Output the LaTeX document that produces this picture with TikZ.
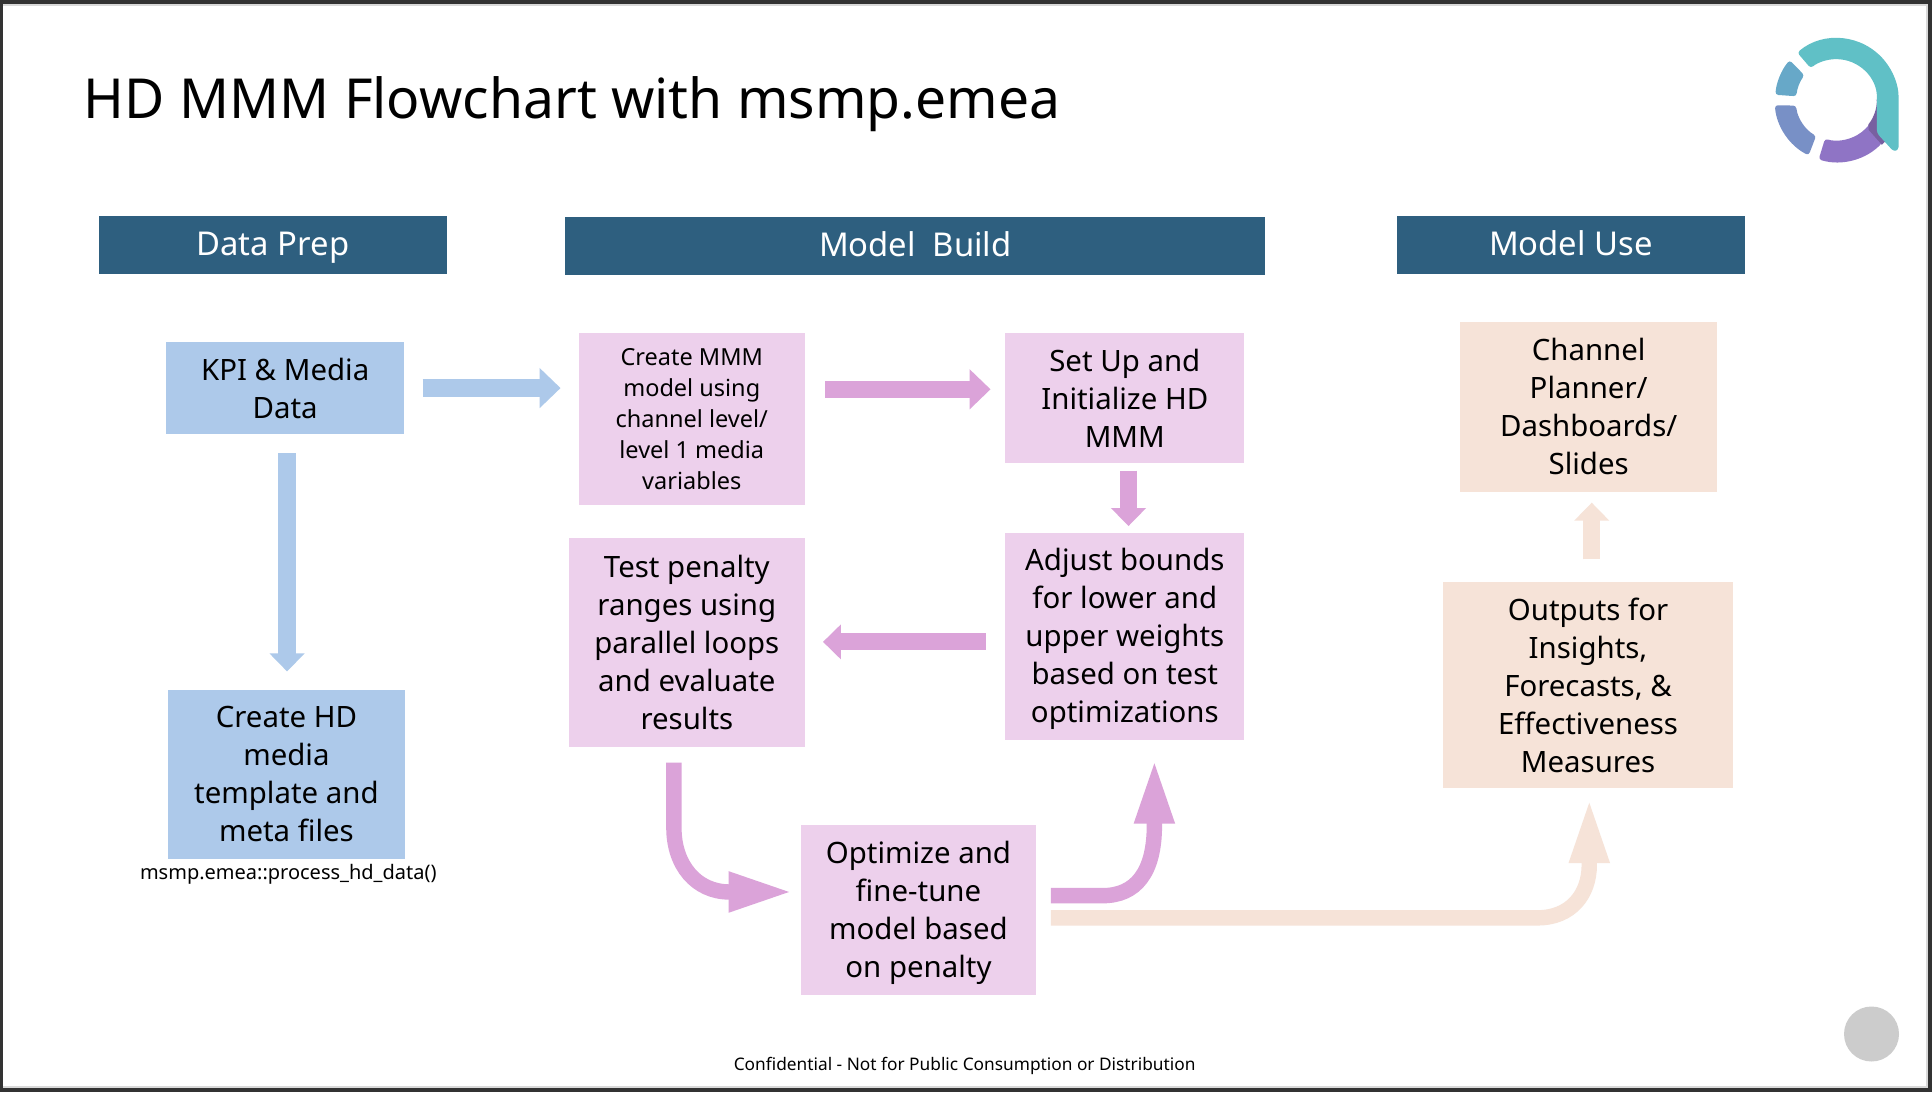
\documentclass[tikz,border=0pt]{standalone}
\usepackage{fontspec}
\setmainfont{Noto Sans}
\usetikzlibrary{arrows.meta}
\definecolor{hdr}{HTML}{2E5F7F}
\definecolor{bluebox}{HTML}{ADC9EA}
\definecolor{pinkbox}{HTML}{EDD0EC}
\definecolor{peachbox}{HTML}{F6E3D8}
\definecolor{pinkarrow}{HTML}{DBA3D9}
\definecolor{logoteal}{HTML}{60C0C6}
\definecolor{logoblue}{HTML}{67A8C8}
\definecolor{logoperi}{HTML}{7890C6}
\definecolor{logopurple}{HTML}{8F74C5}
\definecolor{logodark}{HTML}{7860A0}
\newcommand\bx[7]{%
  \pgfmathsetmacro\cx{(#2+#4)/2}\pgfmathsetmacro\cy{(#3+#5)/2}%
  \pgfmathsetmacro\bw{(#4-#2)*1.232}\pgfmathsetmacro\bh{(#5-#3)*1.232}%
  \node[#6,minimum width=\bw pt,minimum height=\bh pt] (#1) at (\cx,\cy) {#7};}
\tikzset{
  x=1.232pt,y=-1.232pt,
  basebox/.style={inner sep=0pt,align=center,text=black},
  header/.style={basebox,fill=hdr,text=white,text height=28pt,text depth=6pt,font=\fontsize{32.8}{36}\selectfont},
  body/.style={basebox,font=\fontsize{29.4}{38}\selectfont},
  small/.style={basebox,font=\fontsize{23.5}{31}\selectfont},
  blueb/.style={fill=bluebox},
  pinkb/.style={fill=pinkbox},
  peachb/.style={fill=peachbox},
  straightarrow/.style={line width=17.2pt,-{Triangle[width=39pt,length=21pt]}},
  smallarrow/.style={line width=17.2pt,-{Triangle[width=34pt,length=18pt]}},
  curvearrowa/.style={line width=15.4pt,color=pinkarrow,-{Triangle[width=36pt,length=66pt]}},
  curvearrowb/.style={line width=15.4pt,-{Triangle[width=36pt,length=66pt]}},
  logo/.style={rounded corners=3pt},
}
\begin{document}
\begin{tikzpicture}
\useasboundingbox (0pt,0pt) rectangle (1932pt,-1092pt);
% slide frame
\fill[black!80] (0pt,0pt) rectangle (1932pt,-1092pt);
\fill[black!15] (3pt,-4pt) rectangle (1928pt,-1088pt);
\fill[white] (3pt,-6pt) rectangle (1926pt,-1086pt);
% title
\node[anchor=base west,inner sep=0pt,font=\fontsize{55.2}{70}\selectfont] (title) at (68,96) {HD MMM Flowchart with msmp.emea};
% headers
\bx{hA}{80}{175}{363}{222}{header}{Data Prep}
\bx{hB}{459}{176}{1027}{223}{header}{Model\ \ Build}
\bx{hC}{1134}{175}{1416}{222}{header}{Model Use}
% boxes
\bx{kpi}{135}{278}{328}{352}{body,blueb}{KPI \& Media\\Data}
\bx{tmpl}{136}{560}{329}{697}{body,blueb}{Create HD\\media\\template and\\meta files}
\bx{mmm}{470}{270}{653}{410}{small,pinkb}{Create MMM\\model using\\channel level/\\level 1 media\\variables}
\bx{setup}{816}{270}{1010}{376}{body,pinkb}{Set Up and\\Initialize HD\\MMM}
\bx{adjust}{816}{433}{1010}{601}{body,pinkb}{\rule{0pt}{27pt}Adjust bounds\\for lower and\\upper weights\\based on test\\optimizations}
\bx{test}{462}{437}{653}{606}{body,pinkb}{Test penalty\\ranges using\\parallel loops\\and evaluate\\results}
\bx{opt}{650}{670}{841}{808}{body,pinkb}{\rule{0pt}{28pt}Optimize and\\fine-tune\\model based\\on penalty}
\bx{chan}{1185}{261}{1394}{399}{body,peachb}{Channel\\Planner/\\Dashboards/\\Slides}
\bx{outp}{1171}{472}{1407}{640}{body,peachb}{Outputs for\\Insights,\\Forecasts, \&\\Effectiveness\\Measures}
% captions
\node[inner sep=0pt,font=\fontsize{20}{22}\selectfont] (fn) at (234,709.5) {msmp.emea::process\_hd\_data()};
\node[inner sep=0pt,font=\fontsize{17.3}{22}\selectfont] (foot) at (783,865) {Confidential - Not for Public Consumption or Distribution};
% connector ends
\coordinate (a1s) at (343,315); \coordinate (a1e) at (455,315);
\coordinate (a2s) at (233,368); \coordinate (a2e) at (233,545);
\coordinate (a3s) at (670,316); \coordinate (a3e) at (804,316);
\coordinate (a4s) at (916,382); \coordinate (a4e) at (916,427);
\coordinate (a5s) at (800,521); \coordinate (a5e) at (668,521);
\coordinate (a6s) at (1292,454); \coordinate (a6e) at (1292,408);
\coordinate (c1s) at (547,619); \coordinate (c1m) at (547,672); \coordinate (c1n) at (592,724); \coordinate (c1e) at (645,724);
\coordinate (c2s) at (853,727); \coordinate (c2m) at (895,727); \coordinate (c2n) at (937,670); \coordinate (c2e) at (937,615);
\coordinate (c3s) at (853,745); \coordinate (c3m) at (1248,745); \coordinate (c3n) at (1290,702); \coordinate (c3e) at (1290,647);
% connectors
\draw[straightarrow,bluebox] (a1s) -- (a1e);
\draw[smallarrow,bluebox] (a2s) -- (a2e);
\draw[straightarrow,pinkarrow] (a3s) -- (a3e);
\draw[smallarrow,pinkarrow] (a4s) -- (a4e);
\draw[smallarrow,pinkarrow] (a5s) -- (a5e);
\draw[smallarrow,peachbox] (a6s) -- (a6e);
\draw[curvearrowa] (c1s) -- (c1m) .. controls (547,702) and (565,724) .. (c1n) -- (c1e);
\draw[curvearrowa] (c2s) -- (c2m) .. controls (922,727) and (937,708) .. (c2n) -- (c2e);
\draw[curvearrowb,peachbox] (c3s) -- (c3m) .. controls (1275,745) and (1290,726) .. (c3n) -- (c3e);
% page marker
\fill[black!20] (1871.5pt,-1034pt) circle (27.5pt);
% logo
\begin{scope}[shift={(1491,81)},x=.3333pt,y=.3333pt]
\fill[logopurple,logo] (253:187) arc[start angle=253,end angle=318,radius=187] -- (130,-100) -- (125,0) -- (0:122) arc[start angle=0,end angle=-107,radius=122] -- cycle;
\fill[logodark] (0:120) arc[start angle=0,end angle=-38,radius=120] -- (95,-90) -- (135,-135) -- (145,-125) -- (125,-90) -- (125,0) -- cycle;
\fill[logoteal,logo] (130:185) arc[start angle=130,end angle=0,radius=185] -- (185,-150) -- (170,-155) -- (120,-100) -- (120,0) arc[start angle=0,end angle=129,radius=122] -- cycle;
\fill[logoblue,logo] (140:185) arc[start angle=140,end angle=175,radius=187] -- (175:122) arc[start angle=175,end angle=143,radius=122] -- cycle;
\fill[logoperi,logo] (185:187) arc[start angle=185,end angle=243,radius=187] -- (240:125) arc[start angle=240,end angle=187,radius=122] -- cycle;
\end{scope}
\end{tikzpicture}
\end{document}
